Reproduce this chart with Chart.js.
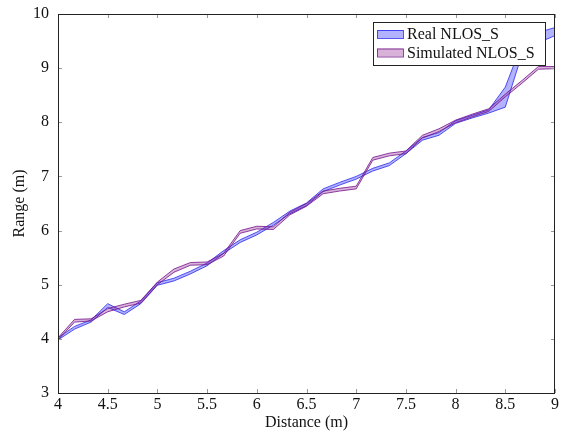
<!DOCTYPE html>
<html lang="en">
<head>
  <meta charset="UTF-8" />
  <title>Real vs Simulated NLOS_S</title>
  <script src="https://cdn.jsdelivr.net/npm/chart.js"></script>
  <style>
    body { margin: 0; background: #fff; }
    #chartContainer { width: 561px; height: 432px; position: relative; }
  </style>
</head>
<body>

  <div id="chartContainer">
    <canvas id="rangeChart"></canvas>
  </div>

  <script>
    // values
    const distance = [4.0, 4.167, 4.333, 4.5, 4.667, 4.833, 5.0, 5.167, 5.333, 5.5, 5.667,
                      5.833, 6.0, 6.167, 6.333, 6.5, 6.667, 6.833, 7.0, 7.167, 7.333,
                      7.5, 7.667, 7.833, 8.0, 8.167, 8.333, 8.5, 8.667, 8.833, 9.0];
    const realLow  = [3.98, 4.18, 4.31, 4.58, 4.45, 4.65, 4.99, 5.07, 5.20, 5.35, 5.58,
                      5.78, 5.92, 6.10, 6.31, 6.46, 6.72, 6.84, 6.95, 7.10, 7.20,
                      7.42, 7.67, 7.76, 7.98, 8.08, 8.17, 8.28, 9.25, 9.47, 9.60];
    const realHigh = [4.02, 4.23, 4.35, 4.65, 4.50, 4.70, 5.04, 5.12, 5.25, 5.40, 5.63,
                      5.83, 5.97, 6.15, 6.36, 6.51, 6.77, 6.89, 7.00, 7.15, 7.25,
                      7.47, 7.72, 7.81, 8.03, 8.13, 8.23, 8.65, 9.45, 9.66, 9.75];
    const simLow   = [3.98, 4.31, 4.33, 4.50, 4.59, 4.66, 5.00, 5.23, 5.36, 5.37, 5.53,
                      5.95, 6.03, 6.02, 6.29, 6.45, 6.68, 6.73, 6.77, 7.30, 7.38,
                      7.42, 7.71, 7.83, 7.99, 8.10, 8.20, 8.47, 8.72, 8.98, 8.99];
    const simHigh  = [4.02, 4.36, 4.37, 4.56, 4.64, 4.71, 5.05, 5.29, 5.41, 5.42, 5.58,
                      6.00, 6.08, 6.07, 6.34, 6.50, 6.73, 6.78, 6.82, 7.35, 7.43,
                      7.47, 7.76, 7.88, 8.04, 8.15, 8.25, 8.52, 8.77, 9.03, 9.03];
    const seriesNames = ['Real NLOS_S', 'Simulated NLOS_S'];

    const FONT = "'Liberation Serif', 'Times New Roman', serif";
    const blueLine = 'rgba(30, 30, 235, 0.75)';
    const blueFill = 'rgba(0, 0, 255, 0.3)';
    const purpleLine = 'rgba(115, 20, 140, 0.8)';
    const purpleFill = 'rgba(128, 0, 128, 0.3)';

    function pts(ys) {
      return distance.map((x, i) => ({ x: x, y: ys[i] }));
    }

    // pgfplots style: inward ticks on every side, plus a black frame
    const frameTicks = {
      id: 'frameTicks',
      afterDatasetsDraw(chart) {
        const { ctx, chartArea: a, scales } = chart;
        ctx.save();
        ctx.strokeStyle = '#999';
        ctx.lineWidth = 1;
        ctx.beginPath();
        scales.x.ticks.forEach(t => {
          const px = Math.round(scales.x.getPixelForValue(t.value)) + 0.5;
          ctx.moveTo(px, a.bottom); ctx.lineTo(px, a.bottom - 4);
          ctx.moveTo(px, a.top); ctx.lineTo(px, a.top + 4);
        });
        scales.y.ticks.forEach(t => {
          const py = Math.round(scales.y.getPixelForValue(t.value)) + 0.5;
          ctx.moveTo(a.left, py); ctx.lineTo(a.left + 4, py);
          ctx.moveTo(a.right, py); ctx.lineTo(a.right - 4, py);
        });
        ctx.stroke();
        ctx.strokeStyle = '#222';
        ctx.strokeRect(a.left + 0.5, a.top + 0.5, a.right - a.left - 1, a.bottom - a.top);
        ctx.restore();
      }
    };

    // legend box in the upper right corner of the plot
    const boxLegend = {
      id: 'boxLegend',
      afterDraw(chart) {
        const ctx = chart.ctx;
        const left = 373, top = 22, w = 172, h = 43;
        ctx.save();
        ctx.fillStyle = '#fff';
        ctx.fillRect(left, top, w, h);
        ctx.strokeStyle = '#222';
        ctx.lineWidth = 1;
        ctx.strokeRect(left + 0.5, top + 0.5, w, h);
        const rows = [
          { name: seriesNames[0], fill: blueFill, line: blueLine, y: 34 },
          { name: seriesNames[1], fill: purpleFill, line: purpleLine, y: 52.5 }
        ];
        rows.forEach(r => {
          ctx.fillStyle = r.fill;
          ctx.fillRect(377, r.y - 4, 26, 8);
          ctx.strokeStyle = r.line;
          ctx.strokeRect(377.5, r.y - 3.5, 26, 8);
          ctx.fillStyle = '#111';
          ctx.font = '16px ' + FONT;
          ctx.textBaseline = 'middle';
          ctx.fillText(r.name, 407, r.y + 1);
        });
        ctx.restore();
      }
    };

    const lineStyle = { pointRadius: 0, borderWidth: 1, tension: 0 };

    new Chart(document.getElementById('rangeChart'), {
      type: 'line',
      data: {
        datasets: [
          Object.assign({ label: 'simLow', data: pts(simLow), borderColor: purpleLine, fill: false }, lineStyle),
          Object.assign({ label: seriesNames[1], data: pts(simHigh), borderColor: purpleLine,
                          backgroundColor: purpleFill, fill: '-1' }, lineStyle),
          Object.assign({ label: 'realLow', data: pts(realLow), borderColor: blueLine, fill: false }, lineStyle),
          Object.assign({ label: seriesNames[0], data: pts(realHigh), borderColor: blueLine,
                          backgroundColor: blueFill, fill: '-1' }, lineStyle)
        ]
      },
      options: {
        responsive: true,
        maintainAspectRatio: false,
        animation: false,
        layout: { padding: { top: 14, right: 6, left: 0, bottom: 0 } },
        plugins: {
          legend: { display: false },
          tooltip: { enabled: false }
        },
        scales: {
          x: {
            type: 'linear',
            min: 4,
            max: 9,
            ticks: { stepSize: 0.5, color: '#111', padding: 2, maxRotation: 0,
                     callback: v => String(v),
                     font: { family: FONT, size: 16 } },
            grid: { display: false, drawTicks: false },
            border: { display: false },
            title: { display: true, text: 'Distance (m)', color: '#111',
                     font: { family: FONT, size: 16 }, padding: { top: 0, bottom: 0 } },
            afterFit(scale) {
              scale.height = 39;
              scale.paddingLeft = 0;
              scale.paddingRight = 0;
            }
          },
          y: {
            min: 3,
            max: 10,
            ticks: { stepSize: 1, color: '#111', padding: 9,
                     font: { family: FONT, size: 16 } },
            grid: { display: false, drawTicks: false },
            border: { display: false },
            title: { display: true, text: 'Range (m)', color: '#111',
                     font: { family: FONT, size: 16 }, padding: { top: 10, bottom: 0 } },
            afterFit(scale) {
              scale.width = 58;
              scale.paddingTop = 0;
              scale.paddingBottom = 0;
            }
          }
        }
      },
      plugins: [frameTicks, boxLegend]
    });
  </script>

</body>
</html>
